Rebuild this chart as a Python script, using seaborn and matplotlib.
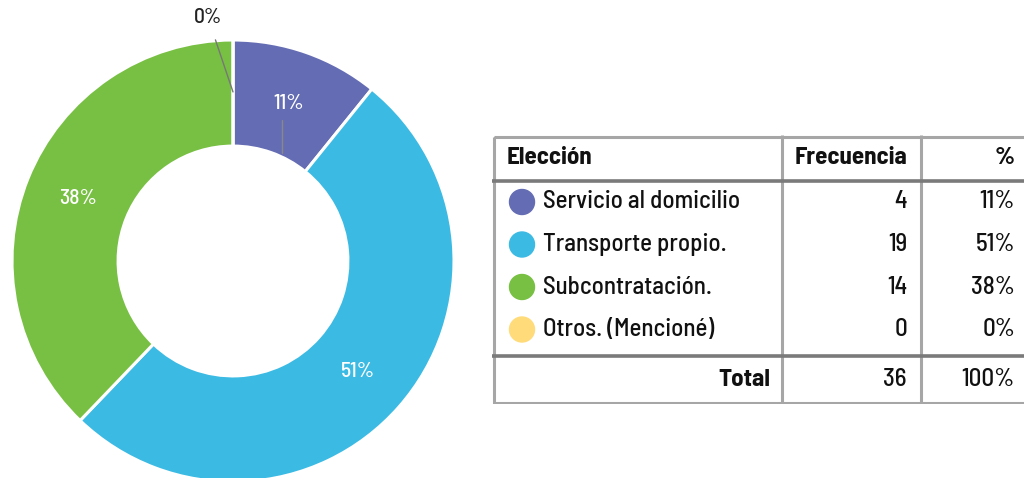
import matplotlib
matplotlib.use('Agg')
import matplotlib.pyplot as plt
import numpy as np
import seaborn as sns
from matplotlib.patches import Circle, Rectangle

categorias = ['Servicio al domicilio', 'Transporte propio.', 'Subcontratación.', 'Otros. (Mencioné)']
frecuencia = [4, 19, 14, 0]
porcentaje = ['11%', '51%', '38%', '0%']
total_frec = '36'
total_pct = '100%'
colores = ['#646cb3', '#3bbae4', '#78c043', '#ffdb7a']

sns.set_theme(style='white')
plt.rcParams['font.family'] = ['Barlow Semi Condensed', 'Roboto', 'DejaVu Sans']

W, H = 1024, 478
fig = plt.figure(figsize=(W / 100, H / 100), dpi=100)

# ---- donut ----
cx, cy, r = 233, 261, 221
ax = fig.add_axes([(cx - r) / W, (H - cy - r) / H, 2 * r / W, 2 * r / H])
wedges, _ = ax.pie(
    frecuencia, colors=colores, startangle=90, counterclock=False,
    radius=1, wedgeprops=dict(width=0.48, edgecolor='white', linewidth=2.2),
)
ax.set_xlim(-1, 1)
ax.set_ylim(-1, 1)
ax.set_aspect('equal')
ax.axis('off')

for w, txt, n in zip(wedges, porcentaje, frecuencia):
    ang = np.deg2rad((w.theta1 + w.theta2) / 2)
    if n == 0:
        ax.annotate(txt, xy=(np.cos(ang) * 0.765, np.sin(ang) * 0.765),
                    xytext=(-0.113, 1.10), ha='center', va='center',
                    fontsize=15.5, fontweight=500, color='#222222',
                    arrowprops=dict(arrowstyle='-', color='#777777', lw=1.0,
                                    shrinkA=7, shrinkB=0))
        continue
    lx, ly = np.cos(ang) * 0.755, np.sin(ang) * 0.755
    ax.text(lx, ly, txt, ha='center', va='center', fontsize=15.5,
            fontweight=500, color='white')
    if txt == '11%':
        # short leader line under the label
        ax.plot([0.22, 0.22], [0.64, 0.489], color='#888888', lw=1.0)

# ---- table ----
tx0, ty0, tx1, ty1 = 492, 135, 1030, 404
tab = fig.add_axes([tx0 / W, (H - ty1) / H, (tx1 - tx0) / W, (ty1 - ty0) / H])
tw, th = tx1 - tx0, ty1 - ty0
tab.set_xlim(0, tw)
tab.set_ylim(th, 0)
tab.axis('off')

col_x = [0, 290, 429]
head_h = 46
body_h = 42.5
body_end = 221
grey = '#a6a6a6'
dark = '#7a7a7a'

tab.add_patch(Rectangle((1.5, 1.5), tw, th - 3, fill=False, edgecolor=grey, lw=2.2))
for x in col_x[1:]:
    tab.vlines(x, 0, th, color=grey, lw=2.2)
tab.hlines([head_h, body_end], 0, tw, color=dark, lw=2.6)

fs = 18
ink = '#111111'
tab.text(15, head_h / 2, 'Elección', fontsize=fs, fontweight='bold', va='center', ha='left', color=ink)
tab.text(415, head_h / 2, 'Frecuencia', fontsize=fs, fontweight='bold', va='center', ha='right', color=ink)
tab.text(523, head_h / 2, '%', fontsize=fs, fontweight='bold', va='center', ha='right', color=ink)

for i, (cat, f, p, c) in enumerate(zip(categorias, frecuencia, porcentaje, colores)):
    yc = head_h + 21 + i * body_h
    tab.add_patch(Circle((30, yc), 12.5, color=c))
    tab.text(51, yc, cat, fontsize=fs, fontweight=500, va='center', ha='left', color=ink)
    tab.text(415, yc, str(f), fontsize=fs, fontweight=500, va='center', ha='right', color=ink)
    tab.text(523, yc, p, fontsize=fs, fontweight=500, va='center', ha='right', color=ink)

yt = (body_end + th) / 2
tab.text(278, yt, 'Total', fontsize=fs, fontweight='bold', va='center', ha='right', color=ink)
tab.text(415, yt, total_frec, fontsize=fs, fontweight=500, va='center', ha='right', color=ink)
tab.text(523, yt, total_pct, fontsize=fs, fontweight=500, va='center', ha='right', color=ink)

fig.savefig('out.png', dpi=100)
